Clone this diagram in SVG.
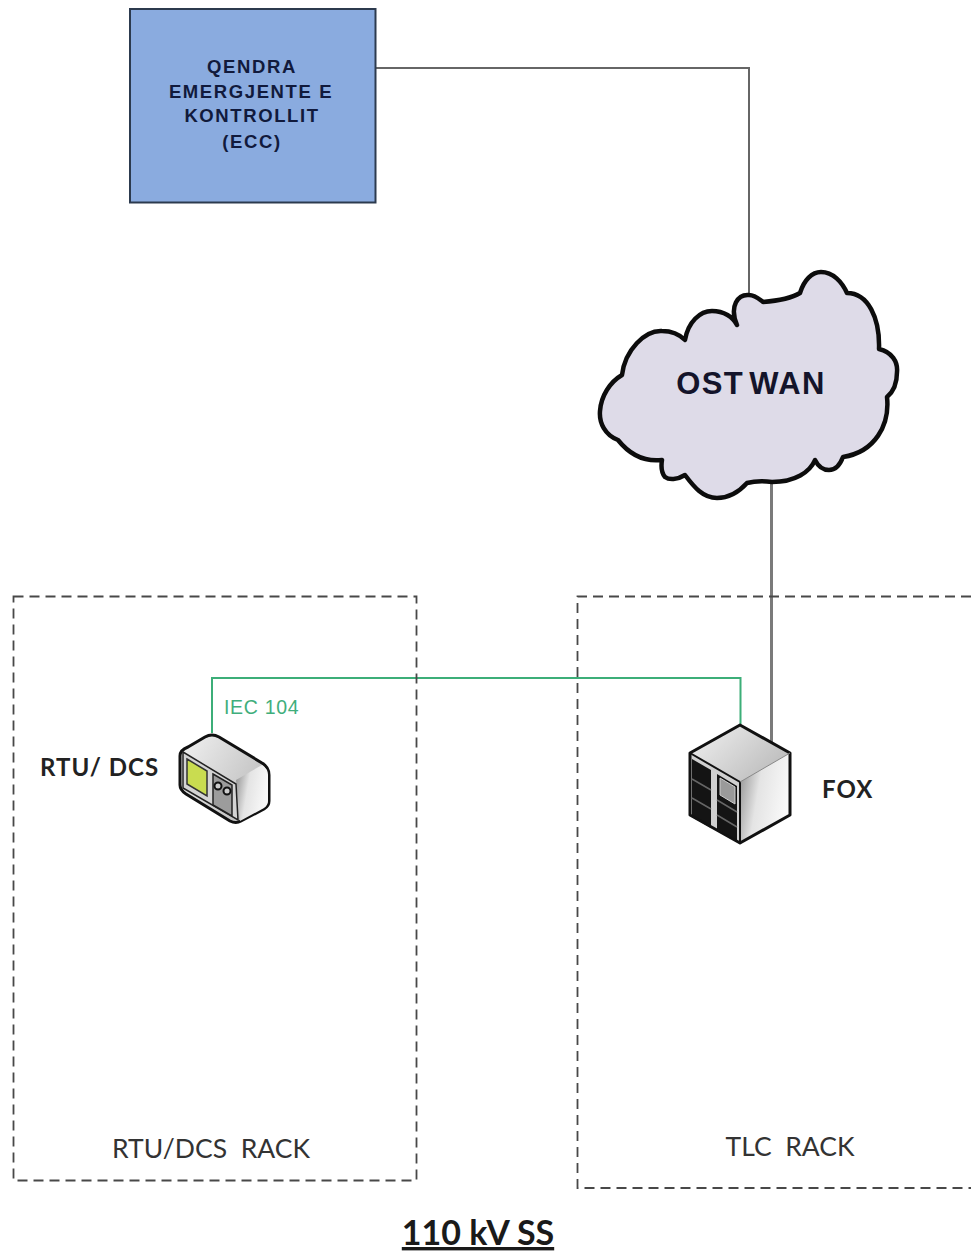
<svg xmlns="http://www.w3.org/2000/svg" width="971" height="1255" viewBox="0 0 971 1255">
<style>
text{font-family:"Liberation Sans",Arial,sans-serif}
.cal{font-family:Lato,"Open Sans",sans-serif}
.rack{fill:none;stroke:#484848;stroke-width:1.800;stroke-dasharray:10 6}
.ecc{font-size:18.500px;font-weight:bold;fill:#111a3c;text-anchor:middle;letter-spacing:1.600px}
.rl{font-size:26.500px;fill:#333;text-anchor:middle;white-space:pre}
.dev{font-size:24px;font-weight:bold;fill:#222;letter-spacing:1px}
.gr{fill:none;stroke:#666;stroke-width:2}
.edge{fill:none;stroke:#111;stroke-width:3;stroke-linejoin:round}
</style>
<defs>
<linearGradient id="top" x1="0" y1="0" x2="1" y2="0.6"><stop offset="0" stop-color="#f2f2f2"/><stop offset="1" stop-color="#bdbdbd"/></linearGradient>
<linearGradient id="side" x1="0" y1="0" x2="1" y2="0.3"><stop offset="0" stop-color="#8c8c8c"/><stop offset="0.45" stop-color="#e4e4e4"/><stop offset="1" stop-color="#f8f8f8"/></linearGradient>
</defs>
<g id="connectors">
<path class="gr" d="M376 68H749V300"/>
<path d="M771.500 482V742" fill="none" stroke="#7a7a7a" stroke-width="3"/>
<path d="M212 733V678H740.500V724" fill="none" stroke="#3cae78" stroke-width="2"/>
<text x="224" y="714" font-size="19.500" fill="#3fae7c" letter-spacing="0.700">IEC 104</text>
</g>
<g id="ecc">
<rect x="130" y="9" width="245.500" height="193.500" fill="#8aabdf" stroke="#2c3a4e" stroke-width="2"/>
<text class="ecc" x="252" y="73">QENDRA</text>
<text class="ecc" x="251" y="98">EMERGJENTE E</text>
<text class="ecc" x="252" y="122">KONTROLLIT</text>
<text class="ecc" x="252" y="148">(ECC)</text>
</g>
<g id="cloud">
<path d="M737 325C729 306 738 294 749 295C755 295 759 299 763 302C775 301 790 299 800 293C804 280 812 272 821 272C833 272 842 282 847 293C868 293 880 318 879 349C892 352 898 362 897 372C897 383 893 392 887 397C890 425 875 452 843 457C840 465 835 470 829 470C823 470 818 466 815 460C810 472 795 482 772 482C764 481 755 481 747 483C738 493 728 498 717 498C703 498 694 487 685 475C677 480 669 480 665 477C661 472 661 466 662 460C645 462 630 455 618 440C605 435 599 423 600 411C601 396 610 382 622 375C625 350 645 330 662 331C672 331 680 335 685 340C688 322 700 311 712 311C724 311 733 317 737 325Z" fill="#dedbe8" stroke="#0c0c0c" stroke-width="4.500" stroke-linejoin="round"/>
<text x="751" y="394" font-size="31" font-weight="bold" fill="#14142a" text-anchor="middle" letter-spacing="1.400" word-spacing="-5">OST WAN</text>
</g>
<g id="rtu-rack">
<rect class="rack" x="13.500" y="596.500" width="403" height="584"/>
<text class="cal rl" x="211" y="1158">RTU/DCS  RACK</text>
</g>
<g id="tlc-rack">
<path class="rack" d="M971 596.500H577.500V1188H971"/>
<text class="cal rl" x="790" y="1156">TLC  RACK</text>
</g>
<g id="rtu">
<path d="M188 747L205 737Q212 733 219 737L262 763Q269 767 269 775L269 801Q269 806 264 809L241 821Q236 824 230 821L186 794Q180 790 180 785L180 756Q180 750 188 747Z" fill="url(#top)" stroke="#111" stroke-width="3" stroke-linejoin="round"/>
<path d="M236 780L262 765Q268 769 268 775L268 801Q268 805 264 808L240 821Z" fill="url(#side)"/>
<path d="M183 752L236 784L238 820L183 788Z" fill="#d4d4d4" stroke="#222" stroke-width="1.500"/>
<path d="M187 759L207 771L207 796L187 784Z" fill="#c9dc50" stroke="#333" stroke-width="1.500"/>
<path d="M213 774L232 785L232 816L213 805Z" fill="#9c9c9c" stroke="#222" stroke-width="1.500"/>
<circle cx="218" cy="786" r="3.500" fill="#ccc" stroke="#111" stroke-width="2"/>
<circle cx="227" cy="791" r="3.500" fill="#ccc" stroke="#111" stroke-width="2"/>
<text class="cal dev" x="40" y="776">RTU/ DCS</text>
</g>
<g id="fox">
<path d="M740 725L790 753V815L740 843L690 815V753Z" fill="#ddd"/>
<path d="M740 725L790 753L740 782L690 753Z" fill="url(#top)"/>
<path d="M740 782L790 753V815L740 843Z" fill="url(#side)"/>
<path d="M690 753L740 782V843L690 815Z" fill="#d0d0d0"/>
<path d="M692 759L711 770V828L692 817Z" fill="#141414"/>
<path d="M717 774L737 786V841L717 829Z" fill="#141414"/>
<path d="M692 779L711 790M692 798L711 809M717 800L737 812M717 815L737 827" stroke="#666" stroke-width="1.500" fill="none"/>
<path d="M720 778L735 787V804L720 795Z" fill="#9a9a9a" stroke="#ccc" stroke-width="1"/>
<path class="edge" d="M740 725L790 753V815L740 843L690 815V753Z"/>
<path d="M690 753L740 782V843" fill="none" stroke="#111" stroke-width="2"/>
<path d="M740 782L790 753" fill="none" stroke="#888" stroke-width="1"/>
<text class="cal dev" x="822" y="798">FOX</text>
</g>
<g id="title">
<text x="478" y="1245" class="cal" font-size="34" font-weight="bold" fill="#1a1a1a" text-anchor="middle" text-decoration="underline">110 kV SS</text>
</g>
</svg>
